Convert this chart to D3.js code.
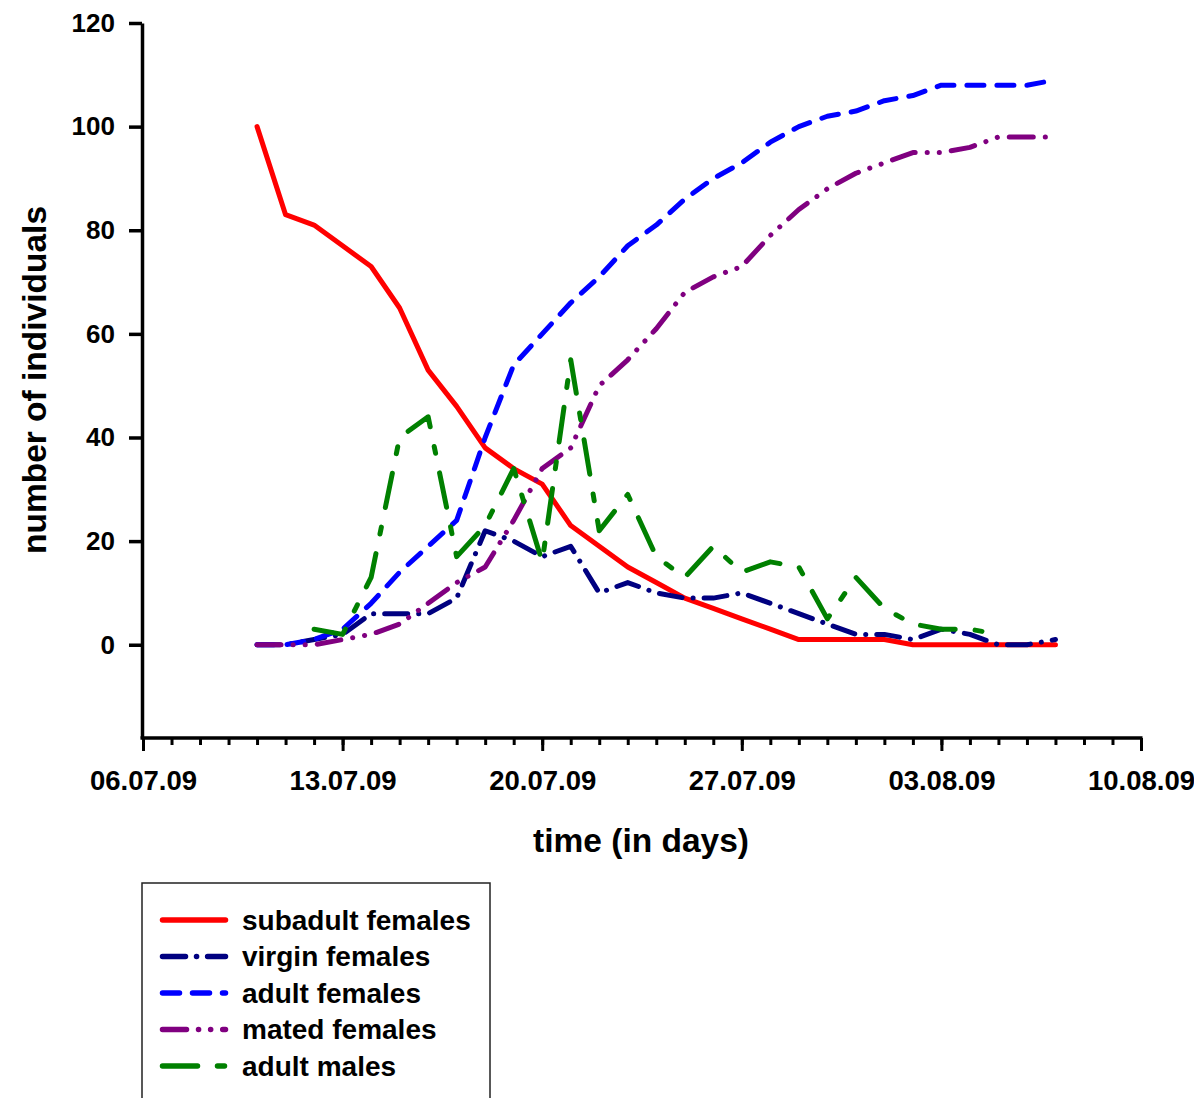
<!DOCTYPE html>
<html>
<head>
<meta charset="utf-8">
<script src="https://cdn.jsdelivr.net/npm/d3@7"></script>
<style>
  html, body { margin: 0; padding: 0; background: #fff; }
  svg { display: block; }
  text { font-family: "Liberation Sans", Arial, sans-serif; font-weight: bold; fill: #000; }
</style>
</head>
<body>
<svg id="chart" width="1194" height="1098"></svg>
<script>
// ---- data ----
const dates = ["10.07.09","11.07.09","12.07.09","13.07.09","14.07.09","15.07.09","16.07.09","17.07.09",
  "18.07.09","19.07.09","20.07.09","21.07.09","22.07.09","23.07.09","24.07.09","25.07.09","26.07.09",
  "27.07.09","28.07.09","29.07.09","30.07.09","31.07.09","01.08.09","02.08.09","03.08.09","04.08.09",
  "05.08.09","06.08.09","07.08.09"];
const subadultFemales = [100,83,81,77,73,65,53,46,38,34,31,23,19,15,12,9,7,5,3,1,1,1,1,0,0,0,0,0,0];
const virginFemales   = [0,0,1,2,6,6,6,9,22,20,17,19,10,12,10,9,9,10,8,6,4,2,2,1,3,2,0,0,1];
const adultFemales    = [0,0,1,3,8,14,19,24,40,54,60,66,71,77,81,86,90,93,97,100,102,103,105,106,108,108,108,108,109];
const matedFemales    = [0,0,0,1,2,4,8,12,15,24,34,38,50,55,61,68,71,73,79,84,88,91,93,95,95,96,98,98,98];
const adultMales      = [null,null,3,2,13,40,44,17,23,34,16,55,22,29,17,13,19,14,16,15,5,13,7,4,3,3,2,null,null];
const seriesNames = ["subadult females","virgin females","adult females","mated females","adult males"];
const xDomain = ["06.07.09","10.08.09"];
const majorTickDates = ["06.07.09","13.07.09","20.07.09","27.07.09","03.08.09","10.08.09"];
const yTicks = [0,20,40,60,80,100,120];
const yDomain = [-18,120];

// ---- styles ----
const styles = [
  {color:"#ff0000", dash:null},
  {color:"#000080", dash:"23,11,0.1,11"},
  {color:"#0000ff", dash:"17,13"},
  {color:"#800080", dash:"24,12,0.1,12,0.1,12"},
  {color:"#008000", dash:"35,20,7,20"}
];

const parse = d3.utcParse("%d.%m.%y");
const fmt = d3.utcFormat("%d.%m.%y");
const svg = d3.select("#chart");

const x = d3.scaleUtc().domain(xDomain.map(parse)).range([143, 1141]);
const y = d3.scaleLinear().domain(yDomain).range([738, 23]);

const allSeries = [subadultFemales, virginFemales, adultFemales, matedFemales, adultMales];
const dateObjs = dates.map(parse);

// y axis
const yAxis = d3.axisLeft(y).tickValues(yTicks).tickSize(13).tickSizeOuter(0).tickPadding(14);
const gy = svg.append("g").attr("transform","translate(142,0)").call(yAxis);
gy.select(".domain").attr("stroke","#000").attr("stroke-width",3.5);
gy.selectAll(".tick line").attr("stroke","#000").attr("stroke-width",3.5);
gy.selectAll(".tick text").attr("font-size",26).style("font-family","'Liberation Sans', Arial, sans-serif").style("font-weight","bold");

// x axis minor
const allDays = d3.utcDay.range(parse(xDomain[0]), d3.utcDay.offset(parse(xDomain[1]),1));
const xMinor = d3.axisBottom(x).tickValues(allDays).tickSize(7).tickSizeOuter(0).tickFormat("");
const gxm = svg.append("g").attr("transform","translate(0,738)").call(xMinor);
gxm.select(".domain").remove();
gxm.selectAll(".tick line").attr("stroke","#000").attr("stroke-width",3);

const xMajor = d3.axisBottom(x).tickValues(majorTickDates.map(parse)).tickSize(13).tickSizeOuter(0)
  .tickPadding(19).tickFormat(fmt);
const gx = svg.append("g").attr("transform","translate(0,738)").call(xMajor);
gx.select(".domain").remove();
gx.selectAll(".tick line").attr("stroke","#000").attr("stroke-width",3);
gx.selectAll(".tick text").attr("font-size",27.5).style("font-family","'Liberation Sans', Arial, sans-serif").style("font-weight","bold");
svg.append("line").attr("x1",140.5).attr("x2",1142.5).attr("y1",738).attr("y2",738)
  .attr("stroke","#000").attr("stroke-width",3.5);

// axis titles
svg.append("text").attr("x",641).attr("y",852).attr("text-anchor","middle")
  .attr("font-size",33.5).text("time (in days)");
svg.append("text").attr("transform","translate(46,380) rotate(-90)").attr("text-anchor","middle")
  .attr("font-size",33.5).text("number of individuals");

// lines
const line = d3.line()
  .defined(d => d.v !== null)
  .x(d => x(d.t)).y(d => y(d.v));

allSeries.forEach((vals, i) => {
  const data = vals.map((v, k) => ({t: dateObjs[k], v}));
  const p = svg.append("path").datum(data)
    .attr("fill","none").attr("stroke",styles[i].color).attr("stroke-width",5)
    .attr("stroke-linejoin","round").attr("stroke-linecap","round")
    .attr("d", line);
  if (styles[i].dash) p.attr("stroke-dasharray", styles[i].dash);
});

// legend
svg.append("rect").attr("x",142).attr("y",883).attr("width",348).attr("height",230)
  .attr("fill","none").attr("stroke","#222").attr("stroke-width",1.5);
const legY = d3.scalePoint().domain(seriesNames).range([920, 1066]);
seriesNames.forEach((name, i) => {
  const yy = legY(name);
  const l = svg.append("line").attr("x1",162.5).attr("x2",225.5).attr("y1",yy).attr("y2",yy)
    .attr("stroke",styles[i].color).attr("stroke-width",5.5).attr("stroke-linecap","round");
  if (styles[i].dash) l.attr("stroke-dasharray", styles[i].dash);
  svg.append("text").attr("x",242).attr("y",yy).attr("dy","0.35em")
    .attr("font-size",28).text(name);
});
</script>
</body>
</html>
